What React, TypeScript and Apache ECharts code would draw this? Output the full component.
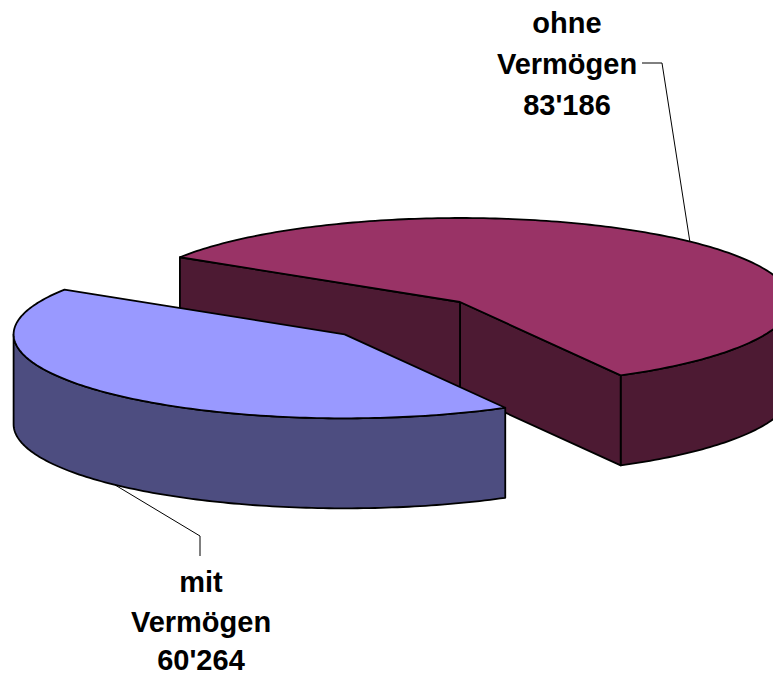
import React, { useEffect, useRef } from "react";
import * as echarts from "echarts";

// ---- data ----
const categories = ["ohne Vermögen", "mit Vermögen"];
const values = [83186, 60264];

// ---- styling / layout ----
const topColors = ["#993366", "#9999FF"];
const sideColors = ["#4D1A33", "#4D4D80"];
const explodedFlags = [false, true];

const CX = 460;
const CY = 302;
const RX = 331;
const RY = 84;
const DEPTH = 90;
const START_ANGLE = 147.8; // math degrees, slices proceed clockwise
const EXPLODE_X = 0.48;
const EXPLODE_Y = 0.56;
const LEADER_SHIFT = 2.6;

const labelX = [567, 201];
const labelLineY = [
  [23, 64, 105],
  [582, 622, 660],
];
const leaderElbow = [
  [662, 63],
  [200, 536],
];
const leaderEnd = [
  [642, 63],
  [200, 556],
];

const fmt = (v: number) => String(v).replace(/\B(?=(\d{3})+(?!\d))/g, "'");

export default function App() {
  const ref = useRef<HTMLDivElement>(null);

  useEffect(() => {
    const chart = echarts.init(ref.current!, null, { renderer: "svg" });
    const total = values.reduce((a, b) => a + b, 0);
    const deg = Math.PI / 180;

    const renderItem = (params: any, api: any) => {
      const i = params.dataIndex;
      const v = api.value(0);
      let cum = 0;
      for (let k = 0; k < i; k++) cum += values[k];
      const a2 = START_ANGLE - (cum / total) * 360;
      const a1 = a2 - (v / total) * 360;
      const mid = (a1 + a2) / 2;
      const ex = explodedFlags[i];
      const cx = CX + (ex ? EXPLODE_X * RX * Math.cos(mid * deg) : 0);
      const cy = CY - (ex ? EXPLODE_Y * RY * Math.sin(mid * deg) : 0);
      const pt = (a: number, dz = 0) => [
        cx + RX * Math.cos(a * deg),
        cy - RY * Math.sin(a * deg) + dz,
      ];
      const arc = (s: number, e: number, dz = 0) => {
        const n = Math.max(2, Math.ceil(Math.abs(e - s)));
        const out: number[][] = [];
        for (let j = 0; j <= n; j++) out.push(pt(s + ((e - s) * j) / n, dz));
        return out;
      };
      const front = -Math.sin(mid * deg);
      const zBase = Math.round((front + 1) * 10) * 10;
      const edge = { stroke: "#000", lineWidth: 1.8, lineJoin: "round" };
      const children: any[] = [];

      // outer curved wall, visible (front) parts only
      for (let k = -2; k <= 2; k++) {
        const lo = Math.max(a1, -180 + 360 * k);
        const hi = Math.min(a2, 360 * k);
        if (hi - lo > 0.01) {
          const pts = arc(lo, hi, 0).concat(arc(hi, lo, DEPTH));
          children.push({
            type: "polygon",
            z2: zBase,
            shape: { points: pts },
            style: { fill: sideColors[i], ...edge },
          });
        }
      }
      // radial walls
      const radial = (a: number) => {
        const p = pt(a);
        const pts = [
          [cx, cy],
          p,
          [p[0], p[1] + DEPTH],
          [cx, cy + DEPTH],
        ];
        children.push({
          type: "polygon",
          z2: zBase + 1,
          shape: { points: pts },
          style: { fill: sideColors[i], ...edge },
        });
      };
      if (Math.sin((a1 - 90) * deg) < 0) radial(a1);
      if (Math.sin((a2 + 90) * deg) < 0) radial(a2);

      // top face
      children.push({
        type: "polygon",
        z2: zBase + 5,
        shape: { points: [[cx, cy]].concat(arc(a1, a2, 0)) },
        style: { fill: topColors[i], ...edge },
      });

      // leader line
      const la = mid + LEADER_SHIFT;
      const anchor = Math.sin(la * deg) < 0 ? pt(la, DEPTH) : pt(la, 0);
      children.push({
        type: "polyline",
        z2: 1000,
        shape: { points: [anchor, leaderElbow[i], leaderEnd[i]] },
        style: { stroke: "#000", lineWidth: 1, fill: null },
      });

      // label
      const lines = categories[i].split(" ").concat([fmt(v)]);
      lines.forEach((t, j) => {
        children.push({
          type: "text",
          z2: 1001,
          style: {
            text: t,
            x: labelX[i],
            y: labelLineY[i][j],
            fill: "#000",
            fontSize: 29,
            lineHeight: 26,
            fontWeight: "bold",
            fontFamily: '"Liberation Sans", Arial, sans-serif',
            align: "center",
            verticalAlign: "middle",
          },
        });
      });

      return { type: "group", children };
    };

    chart.setOption({
      animation: false,
      backgroundColor: "#ffffff",
      series: [
        {
          type: "custom",
          coordinateSystem: "none",
          silent: true,
          renderItem,
          data: values.map((v, i) => ({ name: categories[i], value: [v] })),
        },
      ],
    });

    return () => chart.dispose();
  }, []);

  return (
    <div
      ref={ref}
      style={{ position: "fixed", left: 0, top: 0, width: 773, height: 675, background: "#fff" }}
    />
  );
}
